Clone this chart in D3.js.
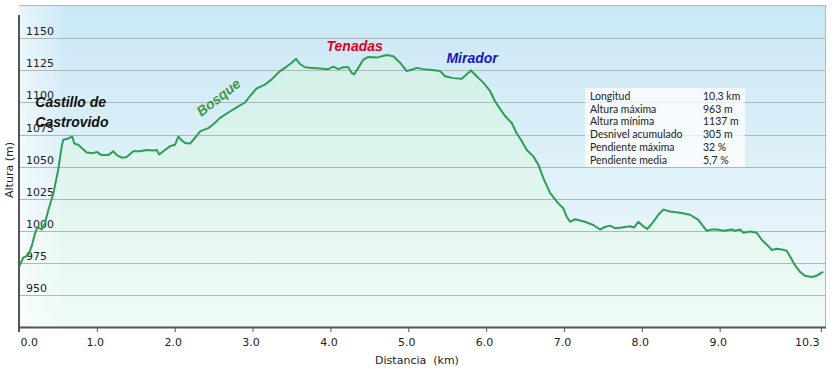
<!DOCTYPE html>
<html>
<head>
<meta charset="utf-8">
<script src="https://cdn.jsdelivr.net/npm/d3@7"></script>
<style>
  body { margin: 0; background: #fff; }
  svg { display: block; }
</style>
</head>
<body>
<svg id="chart" width="834" height="369"></svg>
<script>
// profile (km, m)
var distKm = [0.000, 0.055, 0.119, 0.163, 0.206, 0.240, 0.292, 0.334, 0.376, 0.441, 0.505, 0.549, 0.569, 0.633, 0.685, 0.710, 0.762, 0.805, 0.870, 0.954,
  0.998, 1.062, 1.147, 1.211, 1.255, 1.319, 1.383, 1.468, 1.554, 1.640, 1.725, 1.769, 1.802, 1.854, 1.940, 2.004, 2.046, 2.090, 2.132, 2.197,
  2.261, 2.325, 2.432, 2.496, 2.582, 2.710, 2.817, 2.903, 2.967, 3.053, 3.160, 3.246, 3.353, 3.439, 3.503, 3.558, 3.610, 3.674, 3.738, 3.866,
  3.973, 4.037, 4.101, 4.166, 4.230, 4.274, 4.307, 4.358, 4.423, 4.487, 4.595, 4.723, 4.808, 4.894, 4.980, 5.044, 5.109, 5.193, 5.279, 5.408,
  5.472, 5.579, 5.687, 5.751, 5.806, 5.879, 5.964, 6.050, 6.114, 6.179, 6.243, 6.329, 6.393, 6.457, 6.522, 6.606, 6.671, 6.735, 6.821, 6.907,
  6.949, 6.992, 7.035, 7.078, 7.142, 7.206, 7.271, 7.313, 7.377, 7.463, 7.527, 7.591, 7.656, 7.742, 7.848, 7.900, 7.955, 8.019, 8.071, 8.148,
  8.212, 8.276, 8.362, 8.491, 8.619, 8.726, 8.790, 8.834, 8.898, 8.962, 9.047, 9.155, 9.197, 9.261, 9.304, 9.390, 9.476, 9.540, 9.625, 9.669,
  9.733, 9.797, 9.861, 9.904, 9.968, 10.032, 10.096, 10.182, 10.247, 10.298, 10.331];
var altM = [972, 979, 981, 988, 998, 1003, 1001, 1006, 1016, 1029, 1048, 1066, 1071, 1072, 1073.5, 1068, 1067, 1064.5, 1061, 1060.5,
  1061.5, 1059, 1059, 1062, 1059, 1057, 1057.5, 1062, 1062, 1063, 1062.5, 1063, 1059.5, 1062, 1066, 1067, 1073.5, 1070.5, 1068.5, 1068,
  1072.5, 1077.5, 1080, 1083, 1088, 1093, 1097, 1100, 1105, 1111, 1114, 1118, 1124.5, 1128, 1131, 1134, 1130, 1127.5, 1127, 1126.5,
  1126, 1128, 1126, 1127.5, 1127.5, 1123, 1122, 1127, 1133.5, 1135.5, 1135, 1137, 1136, 1131, 1124.5, 1125.5, 1127, 1126, 1125.5, 1124.5,
  1120.5, 1119, 1118.5, 1122, 1125, 1120.5, 1115.5, 1109, 1101, 1095, 1089.5, 1084, 1076, 1070, 1063, 1058, 1051.5, 1041, 1029.5, 1023,
  1020, 1017.5, 1011, 1007, 1009, 1008, 1007, 1006, 1004.5, 1001, 1003, 1004, 1002, 1002.5, 1003.5, 1002.5, 1007, 1003.5, 1001.5, 1007,
  1012.5, 1016.5, 1015, 1014, 1012.5, 1008.5, 1003.5, 1000, 1001, 1001, 1000, 1001, 1000, 1001, 998.5, 999.5, 998.5, 993, 988, 985,
  986, 985.5, 984.5, 980, 973, 968, 965, 964, 965, 967, 968];

var xTicks = [0, 1, 2, 3, 4, 5, 6, 7, 8, 9, 10.3];
var yTicks = [950, 975, 1000, 1025, 1050, 1075, 1100, 1125, 1150];

var statLabels = ['Longitud', 'Altura máxima', 'Altura mínima', 'Desnivel acumulado', 'Pendiente máxima', 'Pendiente media'];
var statValues = ['10,3 km', '963 m', '1137 m', '305 m', '32 %', '5,7 %'];

var notes = [
  {text: 'Castillo de', km: 0.21, alt: 1096.5, color: '#111', rot: 0},
  {text: 'Castrovido', km: 0.21, alt: 1081, color: '#111', rot: 0},
  {text: 'Bosque', km: 2.6, alt: 1101, color: '#3b9a47', rot: -38},
  {text: 'Tenadas', km: 3.95, alt: 1140, color: '#e3001b', rot: 0},
  {text: 'Mirador', km: 5.49, alt: 1131, color: '#1616c8', rot: 0}
];

var svg = d3.select('#chart');
var pL = 19, pR = 825, pT = 5, pB = 327;

var x = d3.scaleLinear().domain([0, 10.34]).range([pL, pR - 1]);
var y = d3.scaleLinear().domain([925, 1176]).range([pB, pT]);

var defs = svg.append('defs');
var bg = defs.append('linearGradient').attr('id', 'bg').attr('x1', 0).attr('y1', 0).attr('x2', 0).attr('y2', 1);
bg.append('stop').attr('offset', '0%').attr('stop-color', '#c9e8f5');
bg.append('stop').attr('offset', '100%').attr('stop-color', '#f3f9fc');
var side = defs.append('linearGradient').attr('id', 'side').attr('x1', 0).attr('y1', 0).attr('x2', 1).attr('y2', 0);
side.append('stop').attr('offset', '0%').attr('stop-color', '#fff').attr('stop-opacity', 0.6);
side.append('stop').attr('offset', '6%').attr('stop-color', '#fff').attr('stop-opacity', 0);
var fill = defs.append('linearGradient').attr('id', 'fill').attr('gradientUnits', 'userSpaceOnUse')
  .attr('x1', 0).attr('y1', pT).attr('x2', 0).attr('y2', pB);
fill.append('stop').attr('offset', '0%').attr('stop-color', '#cdf0e2').attr('stop-opacity', 0.75);
fill.append('stop').attr('offset', '100%').attr('stop-color', '#effbf4').attr('stop-opacity', 0.9);

svg.append('rect').attr('x', pL).attr('y', pT).attr('width', pR - pL).attr('height', pB - pT)
  .attr('fill', 'url(#bg)');

var pts = distKm.map((d, i) => [d, altM[i]]);

svg.append('path')
  .datum(pts)
  .attr('d', d3.area().x(d => x(d[0])).y0(pB).y1(d => y(d[1])))
  .attr('fill', 'url(#fill)');

svg.append('rect').attr('x', pL).attr('y', pT).attr('width', pR - pL).attr('height', pB - pT)
  .attr('fill', 'url(#side)');

// grid
svg.append('g')
  .selectAll('line')
  .data(yTicks)
  .enter()
  .append('line')
  .attr('x1', pL).attr('x2', pR)
  .attr('y1', d => Math.round(y(d)) + 0.5).attr('y2', d => Math.round(y(d)) + 0.5)
  .style('stroke', '#adb8bb')
  .style('stroke-width', 1);

svg.append('g')
  .selectAll('text')
  .data(yTicks)
  .enter()
  .append('text')
  .attr('x', 26)
  .attr('y', d => Math.round(y(d)) - 3)
  .style('font-family', 'DejaVu Sans, Verdana, sans-serif')
  .style('font-size', '11px')
  .style('fill', '#222')
  .text(d => d);

// profile line
svg.append('path')
  .datum(pts)
  .attr('d', d3.line().x(d => x(d[0])).y(d => y(d[1])))
  .style('fill', 'none')
  .style('stroke', '#2aa055')
  .style('stroke-width', 2)
  .style('stroke-linejoin', 'round');

// frame
svg.append('path')
  .attr('d', 'M' + pL + ',' + (pT + 0.5) + 'H' + (pR + 0.5) + 'V' + pB)
  .style('fill', 'none').style('stroke', '#b4b8ba').style('stroke-width', 1);

// x axis
var xAxis = d3.axisBottom(x).tickValues(xTicks).tickSize(5).tickFormat(d3.format('.1f'));
var gx = svg.append('g').attr('transform', 'translate(0,' + pB + ')').call(xAxis);
gx.select('.domain').attr('d', 'M' + pL + ',0.5H' + (pR + 1)).style('stroke', '#555').style('stroke-width', 2);
gx.selectAll('.tick line').style('stroke', '#555');
gx.selectAll('.tick text')
  .attr('dy', '0')
  .attr('y', 19)
  .style('font-family', 'DejaVu Sans, Verdana, sans-serif')
  .style('font-size', '11px')
  .style('fill', '#222')
  .attr('text-anchor', (d, i) => i == 0 ? 'start' : (i == xTicks.length - 1 ? 'end' : 'middle'))
  .attr('dx', (d, i) => i == 0 ? 1 : -2);

// y axis line
svg.append('line').attr('x1', pL).attr('x2', pL).attr('y1', pT + 10).attr('y2', pB + 5)
  .style('stroke', '#555').style('stroke-width', 2);

svg.append('text')
  .attr('x', 417).attr('y', 364)
  .attr('text-anchor', 'middle')
  .style('font-family', 'DejaVu Sans, Verdana, sans-serif')
  .style('font-size', '11px')
  .style('fill', '#222')
  .style('white-space', 'pre')
  .text('Distancia  (km)');

svg.append('text')
  .attr('transform', 'translate(13,170) rotate(-90)')
  .attr('text-anchor', 'middle')
  .style('font-family', 'DejaVu Sans, Verdana, sans-serif')
  .style('font-size', '11px')
  .style('fill', '#222')
  .text('Altura (m)');

// annotations
svg.append('g')
  .selectAll('text')
  .data(notes)
  .enter()
  .append('text')
  .attr('transform', d => 'translate(' + x(d.km) + ',' + y(d.alt) + ') rotate(' + d.rot + ')')
  .attr('text-anchor', d => d.rot ? 'middle' : 'start')
  .style('font-family', 'Liberation Sans, Arial, sans-serif')
  .style('font-size', '14px')
  .style('font-weight', 'bold')
  .style('font-style', 'italic')
  .style('fill', d => d.color)
  .text(d => d.text);

// stats box
var box = svg.append('g').attr('transform', 'translate(585,88)');
box.append('rect').attr('width', 160).attr('height', 79).attr('fill', '#fff').attr('fill-opacity', 0.75);
box.selectAll('.lab')
  .data(statLabels)
  .enter()
  .append('text')
  .attr('class', 'lab')
  .attr('x', 5)
  .attr('y', (d, i) => 12 + i * 12.7)
  .style('font-family', 'Lato, sans-serif')
  .style('font-size', '10.5px')
  .style('fill', '#222')
  .text(d => d);
box.selectAll('.val')
  .data(statValues)
  .enter()
  .append('text')
  .attr('class', 'val')
  .attr('x', 118)
  .attr('y', (d, i) => 12 + i * 12.7)
  .style('font-family', 'Lato, sans-serif')
  .style('font-size', '10.5px')
  .style('fill', '#222')
  .text(d => d);
</script>
</body>
</html>
